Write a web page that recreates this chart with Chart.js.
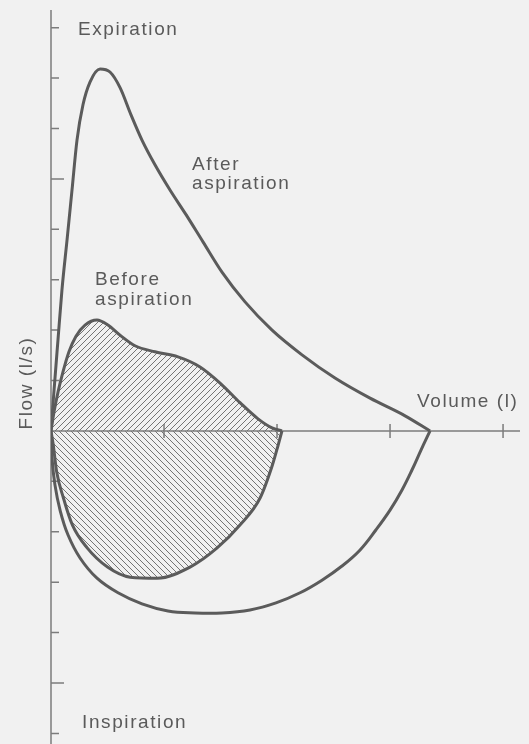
<!DOCTYPE html>
<html>
<head>
<meta charset="utf-8">
<script src="https://cdn.jsdelivr.net/npm/chart.js@4/dist/chart.umd.min.js"></script>
<style>
  html, body { margin: 0; padding: 0; background: #f1f1f1; }
  canvas { display: block; }
</style>
</head>
<body>
<canvas id="loopChart" width="529" height="744"></canvas>
<script>
// flow-volume loops, volume in l, flow in l/s
const afterExpVolume = [0, 0.027, 0.062, 0.097, 0.142, 0.186, 0.230, 0.283, 0.345, 0.434, 0.522, 0.611, 0.708, 0.805, 0.920, 1.053, 1.195, 1.345, 1.513, 1.717, 1.956, 2.221, 2.513, 2.823, 3.133, 3.354];
const afterExpFlow   = [0, 0.81, 1.81, 2.80, 3.79, 4.78, 5.77, 6.47, 6.92, 7.18, 7.12, 6.81, 6.27, 5.77, 5.28, 4.78, 4.29, 3.75, 3.15, 2.56, 2.00, 1.51, 1.05, 0.65, 0.30, 0];

const afterInspVolume = [3.354, 3.274, 3.195, 3.106, 3.000, 2.876, 2.735, 2.575, 2.398, 2.204, 1.991, 1.761, 1.513, 1.274, 1.035, 0.805, 0.593, 0.407, 0.257, 0.150, 0.080, 0.035, 0.009, 0];
const afterInspFlow   = [0, -0.38, -0.77, -1.17, -1.57, -1.96, -2.36, -2.68, -2.96, -3.21, -3.41, -3.55, -3.61, -3.61, -3.57, -3.43, -3.21, -2.92, -2.52, -2.06, -1.57, -1.07, -0.54, 0];

const beforeExpVolume = [0, 0.027, 0.062, 0.106, 0.159, 0.221, 0.301, 0.407, 0.504, 0.611, 0.743, 0.920, 1.124, 1.319, 1.496, 1.673, 1.832, 1.956, 2.044];
const beforeExpFlow   = [0, 0.38, 0.77, 1.17, 1.57, 1.88, 2.10, 2.20, 2.10, 1.90, 1.69, 1.57, 1.47, 1.27, 0.95, 0.56, 0.24, 0.06, 0];

const beforeInspVolume = [2.044, 2.01, 1.96, 1.85, 1.67, 1.47, 1.23, 0.94, 0.70, 0.50, 0.32, 0.19, 0.11, 0.05, 0.02, 0];
const beforeInspFlow   = [0, -0.28, -0.67, -1.33, -1.87, -2.32, -2.70, -2.92, -2.90, -2.70, -2.32, -1.87, -1.33, -0.81, -0.28, 0];

const xTicks = [1, 2, 3, 4];
const yTicks = [-6, -5, -4, -3, -2, -1, 1, 2, 3, 4, 5, 6, 7, 8];
const longYTicks = [-5, 5];

const lineColor = '#5b5b5b';
const axisColor = '#7c7c7c';
const textColor = '#5a5a5a';

function pts(xs, ys) {
    return xs.map((x, i) => ({ x: x, y: ys[i] }));
}

function hatch(dir) {
    const c = document.createElement('canvas');
    c.width = 6;
    c.height = 6;
    const g = c.getContext('2d');
    g.strokeStyle = '#747474';
    g.lineWidth = 1;
    g.beginPath();
    if (dir === '/') {
        g.moveTo(-1, 7); g.lineTo(7, -1);
        g.moveTo(-4, 4); g.lineTo(4, -4);
        g.moveTo(2, 10); g.lineTo(10, 2);
    } else {
        g.moveTo(-1, -1); g.lineTo(7, 7);
        g.moveTo(-4, 2); g.lineTo(4, 10);
        g.moveTo(2, -4); g.lineTo(10, 4);
    }
    g.stroke();
    return g.createPattern(c, 'repeat');
}

const axesPlugin = {
    id: 'axes',
    beforeDatasetsDraw(chart) {
        const ctx = chart.ctx;
        const xs = chart.scales.x;
        const ys = chart.scales.y;
        const x0 = xs.getPixelForValue(0);
        const y0 = ys.getPixelForValue(0);
        ctx.save();
        ctx.strokeStyle = axisColor;
        ctx.lineWidth = 1.5;
        ctx.beginPath();
        ctx.moveTo(x0, chart.chartArea.top);
        ctx.lineTo(x0, chart.chartArea.bottom);
        ctx.moveTo(x0, y0);
        ctx.lineTo(chart.chartArea.right, y0);
        yTicks.forEach(v => {
            const py = ys.getPixelForValue(v);
            const len = longYTicks.includes(v) ? 13 : 8;
            ctx.moveTo(x0, py);
            ctx.lineTo(x0 + len, py);
        });
        xTicks.forEach(v => {
            const px = xs.getPixelForValue(v);
            ctx.moveTo(px, y0 - 7);
            ctx.lineTo(px, y0 + 7);
        });
        ctx.stroke();
        ctx.restore();
    },
    afterDraw(chart) {
        const ctx = chart.ctx;
        ctx.save();
        ctx.fillStyle = textColor;
        ctx.font = '19px "Liberation Sans", Arial, sans-serif';
        ctx.letterSpacing = '1.6px';
        ctx.textBaseline = 'alphabetic';
        ctx.textAlign = 'left';
        ctx.fillText('Expiration', 78, 35);
        ctx.fillText('After', 192, 170);
        ctx.fillText('aspiration', 192, 189);
        ctx.fillText('Before', 95, 285);
        ctx.fillText('aspiration', 95, 305);
        ctx.fillText('Volume (l)', 417, 407);
        ctx.fillText('Inspiration', 82, 728);
        ctx.translate(32, 383);
        ctx.rotate(-Math.PI / 2);
        ctx.textAlign = 'center';
        ctx.fillText('Flow (l/s)', 0, 0);
        ctx.restore();
    }
};

const curve = {
    showLine: true,
    pointRadius: 0,
    borderColor: lineColor,
    borderWidth: 3,
    cubicInterpolationMode: 'monotone',
    fill: false
};

const data = {
    datasets: [
        Object.assign({}, curve, {
            label: 'Before aspiration expiration',
            data: pts(beforeExpVolume, beforeExpFlow),
            fill: 'origin',
            backgroundColor: hatch('/')
        }),
        Object.assign({}, curve, {
            label: 'Before aspiration inspiration',
            data: pts(beforeInspVolume, beforeInspFlow),
            fill: 'origin',
            backgroundColor: hatch('\\')
        }),
        Object.assign({}, curve, {
            label: 'After aspiration expiration',
            data: pts(afterExpVolume, afterExpFlow)
        }),
        Object.assign({}, curve, {
            label: 'After aspiration inspiration',
            data: pts(afterInspVolume, afterInspFlow),
            cubicInterpolationMode: 'default',
            tension: 0.4
        })
    ]
};

const options = {
    responsive: false,
    animation: false,
    layout: { padding: { left: 51, top: 10, right: 9, bottom: 0 } },
    plugins: {
        legend: { display: false },
        tooltip: { enabled: false }
    },
    scales: {
        x: { type: 'linear', min: 0, max: 4.15, display: false },
        y: { type: 'linear', min: -6.21, max: 8.35, display: false }
    }
};

new Chart(document.getElementById('loopChart').getContext('2d'), {
    type: 'scatter',
    data: data,
    options: options,
    plugins: [axesPlugin]
});
</script>
</body>
</html>
